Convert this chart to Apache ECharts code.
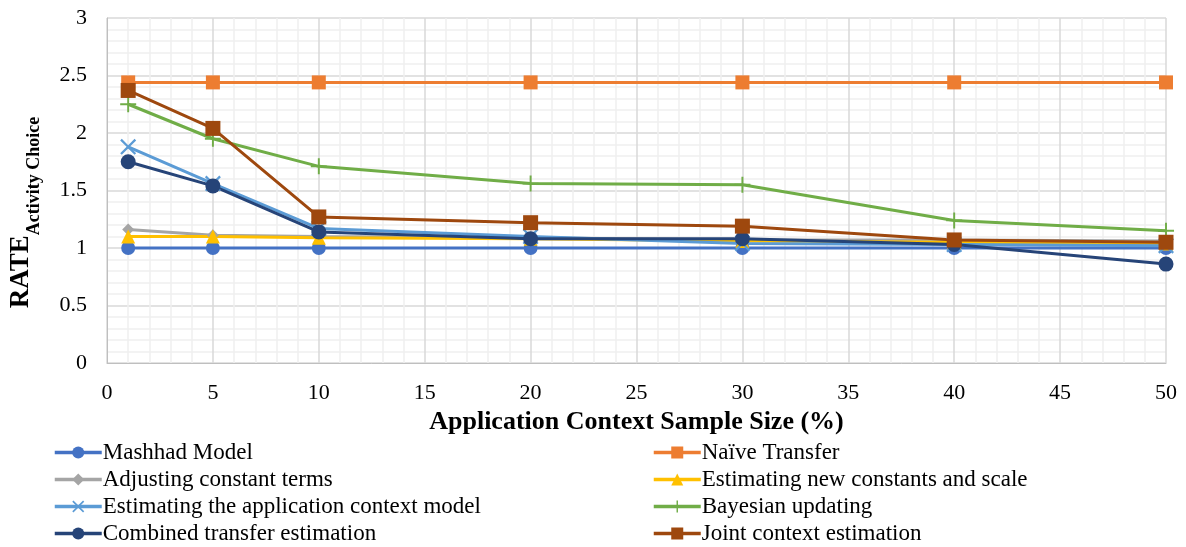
<!DOCTYPE html>
<html>
<head>
<meta charset="utf-8">
<script src="https://cdn.jsdelivr.net/npm/echarts@6/dist/echarts.min.js"></script>
<style>
html,body{margin:0;padding:0;background:#fff;}
#chart{width:1186px;height:547px;}
</style>
</head>
<body>
<div id="chart"></div>
<script>
const sampleSizes = [1, 5, 10, 20, 30, 40, 50];
const seriesNames = [
  'Mashhad Model', 'Naïve Transfer',
  'Adjusting constant terms', 'Estimating new constants and scale',
  'Estimating the application context model', 'Bayesian updating',
  'Combined transfer estimation', 'Joint context estimation'
];
const mashhadModel = [1.00, 1.00, 1.00, 1.00, 1.00, 1.00, 1.00];
const naiveTransfer = [2.44, 2.44, 2.44, 2.44, 2.44, 2.44, 2.44];
const adjustingConstants = [1.16, 1.11, 1.10, 1.09, 1.07, 1.07, 1.06];
const newConstantsScale = [1.10, 1.10, 1.09, 1.08, 1.06, 1.05, 1.04];
const applicationModel = [1.88, 1.56, 1.17, 1.10, 1.04, 1.03, 1.02];
const bayesianUpdating = [2.25, 1.95, 1.71, 1.56, 1.55, 1.24, 1.15];
const combinedTransfer = [1.75, 1.54, 1.14, 1.08, 1.08, 1.03, 0.86];
const jointContext = [2.37, 2.04, 1.27, 1.22, 1.19, 1.07, 1.05];

const allValues = [mashhadModel, naiveTransfer, adjustingConstants, newConstantsScale,
  applicationModel, bayesianUpdating, combinedTransfer, jointContext];
const colors = ['#4472C4', '#ED7D31', '#A5A5A5', '#FFC000', '#5B9BD5', '#70AD47', '#264478', '#9E480E'];
const xPath = 'path://M1,0L5,4L9,0L10,1L6,5L10,9L9,10L5,6L1,10L0,9L4,5L0,1Z';
const plusPath = 'path://M4.4,0H5.6V4.4H10V5.6H5.6V10H4.4V5.6H0V4.4H4.4Z';
const symbols = ['circle', 'rect', 'diamond', 'triangle', xPath, plusPath, 'circle', 'rect'];
const symbolSizes = [14, 14, 12, 14, 16, 16, 15, 15];

const FONT = '"Liberation Serif", "Times New Roman", serif';

const series = seriesNames.map((name, i) => ({
  name: name,
  type: 'line',
  data: sampleSizes.map((x, j) => [x, allValues[i][j]]),
  symbol: symbols[i],
  symbolSize: symbolSizes[i],
  showAllSymbol: true,
  lineStyle: { color: colors[i], width: 3 },
  itemStyle: { color: colors[i], opacity: 1 },
  emphasis: { disabled: true },
  animation: false
}));

const legendCommon = {
  orient: 'vertical', top: 436, height: 120,
  itemWidth: 47, itemHeight: 15, itemGap: 4,
  textStyle: { fontFamily: FONT, fontSize: 23, lineHeight: 23, color: '#000', padding: [0, 0, 0, -4] },
  lineStyle: { width: 3.5 },
  selectedMode: false
};

const chart = echarts.init(document.getElementById('chart'));
chart.setOption({
  animation: false,
  color: colors,
  grid: { left: 107, right: 20, top: 18, bottom: 184, containLabel: false },
  xAxis: {
    type: 'value', min: 0, max: 50, interval: 5,
    name: 'Application Context Sample Size (%)',
    nameLocation: 'middle', nameGap: 37,
    nameTextStyle: { fontFamily: FONT, fontSize: 26, fontWeight: 'bold', color: '#000' },
    axisLine: { show: true, lineStyle: { color: '#BFBFBF', width: 1 } },
    axisTick: { show: false },
    axisLabel: { fontFamily: FONT, fontSize: 22, color: '#000', margin: 19 },
    splitLine: { show: true, lineStyle: { color: '#D9D9D9', width: 1.5 } },
    minorTick: { show: false, splitNumber: 5 },
    minorSplitLine: { show: true, lineStyle: { color: '#F0F0F0', width: 1.5 } }
  },
  yAxis: {
    type: 'value', min: 0, max: 3, interval: 0.5,
    name: '{main|RATE}{sub|Activity Choice}',
    nameLocation: 'middle', nameGap: 72, nameRotate: 90,
    nameTextStyle: {
      fontFamily: FONT, color: '#000', padding: [0, 44, 0, 0],
      rich: {
        main: { fontFamily: FONT, fontSize: 27, fontWeight: 'bold', color: '#000', verticalAlign: 'bottom', lineHeight: 30 },
        sub: { fontFamily: FONT, fontSize: 18, fontWeight: 'bold', color: '#000', verticalAlign: 'bottom', lineHeight: 30, padding: [0, 0, -8, 0] }
      }
    },
    axisLine: { show: true, lineStyle: { color: '#BFBFBF', width: 1 } },
    axisTick: { show: false },
    axisLabel: { fontFamily: FONT, fontSize: 22, color: '#000', margin: 20 },
    splitLine: { show: true, lineStyle: { color: '#D9D9D9', width: 1.5 } },
    minorTick: { show: false, splitNumber: 5 },
    minorSplitLine: { show: true, lineStyle: { color: '#F0F0F0', width: 1.5 } }
  },
  legend: [
    Object.assign({}, legendCommon, {
      left: 48,
      data: [seriesNames[0], seriesNames[2], seriesNames[4], seriesNames[6]]
    }),
    Object.assign({}, legendCommon, {
      left: 647,
      data: [seriesNames[1], seriesNames[3], seriesNames[5], seriesNames[7]]
    })
  ],
  series: series
});
</script>
</body>
</html>
